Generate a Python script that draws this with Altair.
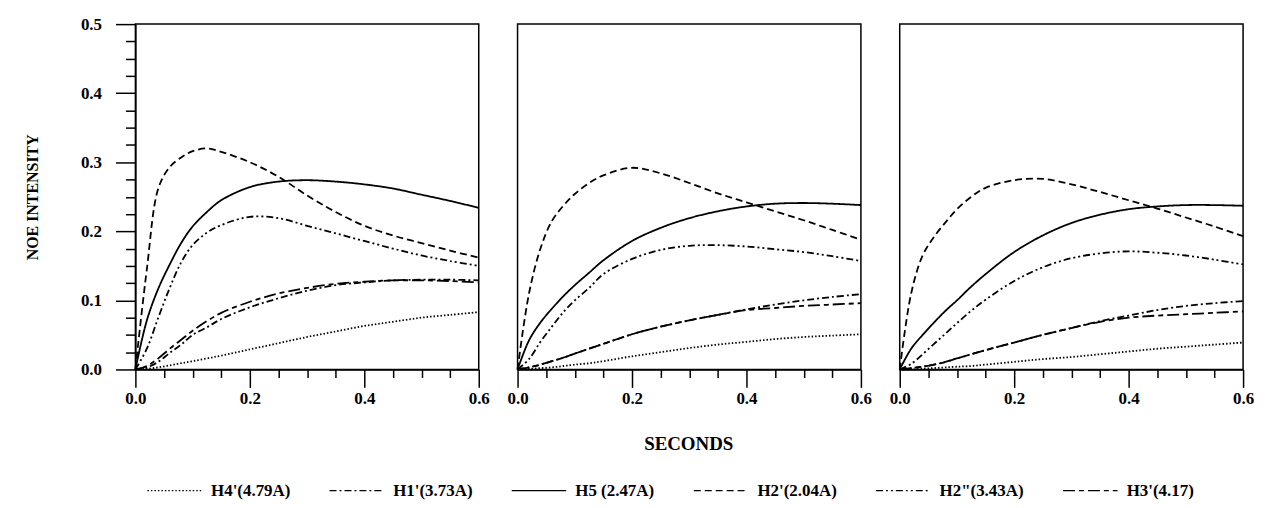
import altair as alt
import pandas as pd

# time grid (seconds)
T = [0, 0.02, 0.04, 0.06, 0.08, 0.1, 0.125, 0.15, 0.2, 0.25, 0.3, 0.35, 0.4, 0.45, 0.5, 0.55, 0.6]

SERIES = ["H4'(4.79A)", "H1'(3.73A)", "H5 (2.47A)", "H2'(2.04A)", 'H2"(3.43A)', "H3'(4.17)"]
DASHES = [[1.5, 2], [7, 3, 2, 3], [1, 0], [7, 4], [7, 3, 2, 3, 2, 3], [12, 4, 5, 4]]

# Panel 1
P1_H4 = [0, 0.001, 0.003, 0.006, 0.009, 0.012, 0.016, 0.020, 0.029, 0.038, 0.047, 0.055, 0.063, 0.069, 0.075, 0.079, 0.083]
P1_H1 = [0, 0.003, 0.011, 0.024, 0.036, 0.050, 0.061, 0.073, 0.090, 0.103, 0.114, 0.122, 0.126, 0.129, 0.130, 0.130, 0.129]
P1_H5 = [0, 0.071, 0.117, 0.152, 0.183, 0.207, 0.228, 0.245, 0.264, 0.272, 0.274, 0.272, 0.268, 0.262, 0.253, 0.244, 0.234]
P1_H2p = [0, 0.145, 0.262, 0.293, 0.307, 0.316, 0.320, 0.315, 0.300, 0.279, 0.252, 0.228, 0.208, 0.194, 0.183, 0.172, 0.162]
P1_H2pp = [0, 0.030, 0.075, 0.118, 0.155, 0.180, 0.198, 0.209, 0.221, 0.219, 0.208, 0.197, 0.186, 0.175, 0.165, 0.157, 0.150]
P1_H3 = [0, 0.005, 0.016, 0.030, 0.043, 0.056, 0.070, 0.082, 0.098, 0.110, 0.118, 0.124, 0.127, 0.129, 0.129, 0.128, 0.126]

# Panel 2
P2_H4 = [0, 0.001, 0.002, 0.003, 0.005, 0.007, 0.009, 0.012, 0.019, 0.025, 0.031, 0.036, 0.040, 0.044, 0.047, 0.049, 0.051]
P2_H1 = [0, 0.003, 0.007, 0.012, 0.017, 0.023, 0.030, 0.037, 0.051, 0.062, 0.071, 0.079, 0.087, 0.094, 0.100, 0.105, 0.109]
P2_H5 = [0, 0.042, 0.068, 0.088, 0.106, 0.122, 0.140, 0.158, 0.186, 0.205, 0.219, 0.229, 0.236, 0.240, 0.241, 0.240, 0.238]
P2_H2p = [0, 0.110, 0.175, 0.215, 0.237, 0.254, 0.270, 0.281, 0.292, 0.284, 0.270, 0.255, 0.242, 0.229, 0.216, 0.202, 0.188]
P2_H2pp = [0, 0.015, 0.040, 0.062, 0.083, 0.100, 0.118, 0.138, 0.160, 0.173, 0.179, 0.180, 0.178, 0.174, 0.170, 0.164, 0.157]
P2_H3 = [0, 0.003, 0.007, 0.012, 0.017, 0.023, 0.030, 0.037, 0.051, 0.062, 0.071, 0.079, 0.086, 0.089, 0.092, 0.094, 0.096]

# Panel 3
P3_H4 = [0, 0.000, 0.001, 0.002, 0.003, 0.004, 0.005, 0.007, 0.011, 0.015, 0.018, 0.022, 0.026, 0.030, 0.033, 0.036, 0.039]
P3_H1 = [0, 0.002, 0.004, 0.007, 0.011, 0.016, 0.022, 0.028, 0.039, 0.050, 0.060, 0.070, 0.078, 0.086, 0.092, 0.096, 0.099]
P3_H5 = [0, 0.030, 0.050, 0.068, 0.085, 0.100, 0.120, 0.138, 0.170, 0.194, 0.212, 0.224, 0.232, 0.236, 0.238, 0.238, 0.237]
P3_H2p = [0, 0.110, 0.165, 0.192, 0.213, 0.232, 0.250, 0.263, 0.274, 0.276, 0.268, 0.257, 0.245, 0.233, 0.220, 0.207, 0.193]
P3_H2pp = [0, 0.008, 0.022, 0.037, 0.052, 0.067, 0.085, 0.101, 0.128, 0.148, 0.161, 0.168, 0.171, 0.169, 0.165, 0.159, 0.152]
P3_H3 = [0, 0.002, 0.004, 0.007, 0.011, 0.016, 0.022, 0.028, 0.039, 0.050, 0.060, 0.069, 0.075, 0.078, 0.080, 0.082, 0.084]

PANELS = {
    1: [P1_H4, P1_H1, P1_H5, P1_H2p, P1_H2pp, P1_H3],
    2: [P2_H4, P2_H1, P2_H5, P2_H2p, P2_H2pp, P2_H3],
    3: [P3_H4, P3_H1, P3_H5, P3_H2p, P3_H2pp, P3_H3],
}

rows = []
for p, lists in PANELS.items():
    for name, vals in zip(SERIES, lists):
        for t, v in zip(T, vals):
            rows.append({"panel": p, "series": name, "t": t, "v": v})
df = pd.DataFrame(rows)

FONT = "Liberation Serif"
X_TICKS = [round(i * 0.05, 2) for i in range(13)]
Y_TICKS = [round(i * 0.025, 3) for i in range(21)]

x_major = "abs(datum.value*5 - round(datum.value*5)) < 0.001"
y_major = "abs(datum.value*10 - round(datum.value*10)) < 0.001"

base = alt.Chart(df).mark_line(color="black", strokeWidth=1.8, interpolate="catmull-rom").encode(
    x=alt.X("t:Q", scale=alt.Scale(domain=[0, 0.6], nice=False, zero=False),
            axis=alt.Axis(values=X_TICKS, title=None, grid=False, labelFlush=False,
                          labelExpr=f"{x_major} ? format(datum.value, '.1f') : ''",
                          tickSize={"condition": {"test": x_major, "value": 18}, "value": 8},
                          labelPadding=3, labelFontSize=17)),
    y=alt.Y("v:Q", scale=alt.Scale(domain=[0, 0.5], nice=False),
            axis=alt.Axis(values=Y_TICKS, title="NOE INTENSITY", grid=False,
                          labelExpr=f"{y_major} ? format(datum.value, '.1f') : ''",
                          tickSize={"condition": {"test": y_major, "value": 20}, "value": 10},
                          labelPadding=14, labelFontSize=17, titlePadding=40, titleFontSize=16)),
    strokeDash=alt.StrokeDash("series:N", scale=alt.Scale(domain=SERIES, range=DASHES),
                              legend=alt.Legend(title=None, orient="none", legendX=11, legendY=440,
                                                direction="horizontal", columns=6,
                                                symbolType="stroke", symbolSize=3000,
                                                symbolStrokeWidth=1.5, symbolStrokeColor="black",
                                                labelFont=FONT, labelFontSize=17, labelFontWeight="bold",
                                                labelColor="black", labelOffset=8, columnPadding=36,
                                                labelLimit=200)),
    order="t:Q",
).properties(width=345, height=347)

chart = base.facet(
    column=alt.Column("panel:N", header=alt.Header(labels=False, title="SECONDS", titleOrient="bottom",
                                                   titleFont=FONT, titleFontSize=19, titleFontWeight="bold",
                                                   titleColor="black", titlePadding=19)),
    spacing=39,
).properties(
    bounds="flush",
    padding={"left": 16, "top": 6, "right": 5, "bottom": 5},
    background="white",
).configure_view(
    stroke="black", strokeWidth=1.5
).configure_axis(
    domainColor="black", domainWidth=1.5, tickColor="black", tickWidth=1.5,
    labelFont=FONT, labelFontWeight="bold", labelColor="black",
    titleFont=FONT, titleFontWeight="bold", titleColor="black",
)

chart.save("out.html", embed_options={"renderer": "svg", "actions": False})
